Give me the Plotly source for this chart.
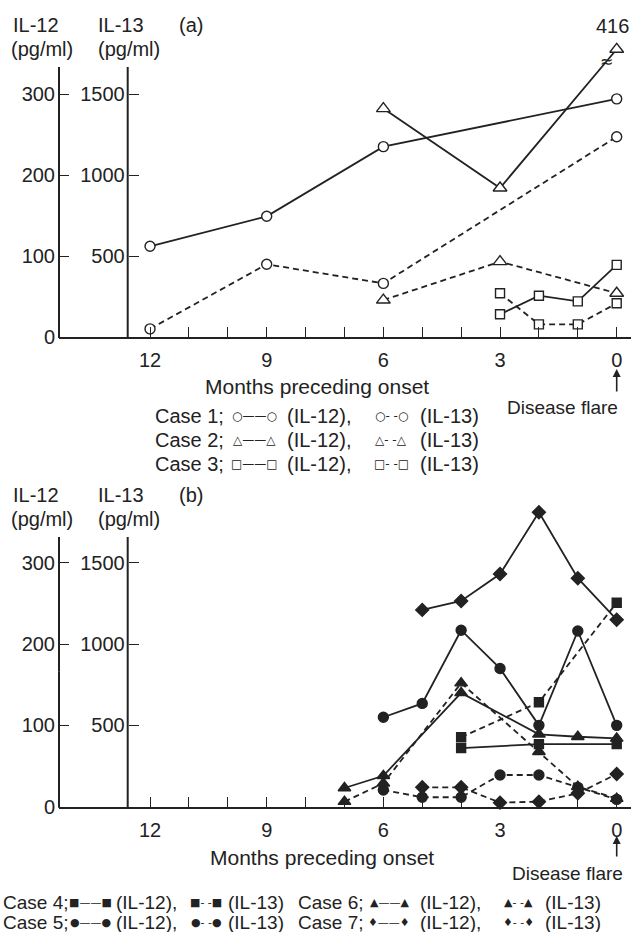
import plotly.graph_objects as go

# ---------------- data ----------------
# Panel (a)
c1_months = [12, 9, 6, 0]
c1_il12 = [112, 149, 235, 294]
c1_il13 = [50, 449, 331, 1236]
c2_months = [6, 3, 0]
c2_il12 = [282, 184, 416]
c2_il13 = [228, 465, 270]
c3_months = [3, 2, 1, 0]
c3_il12 = [28, 51, 44, 89]
c3_il13 = [270, 78, 78, 208]

# Panel (b)
c4_months = [4, 2, 0]
c4_il12 = [72, 77, 77]
c4_il13 = [427, 642, 1254]
c5_months = [6, 5, 4, 3, 2, 1, 0]
c5_il12 = [110, 127, 217, 170, 100, 216, 100]
c5_il13 = [103, 58, 58, 195, 195, 119, 45]
c6_months = [7, 6, 4, 2, 1, 0]
c6_il12 = [23, 38, 140, 89, 86, 84]
c6_il13 = [31, 144, 760, 338, 123, 50]
c7_months = [5, 4, 3, 2, 1, 0]
c7_il12 = [242, 253, 286, 362, 281, 230]
c7_il13 = [119, 119, 25, 31, 82, 201]

month_ticks = list(range(0, 13))
month_labels = [str(m) if m % 3 == 0 else "" for m in month_ticks]
il12_ticks = [0, 100, 200, 300]
il13_ticks = [500, 1000, 1500]

# ---------------- geometry ----------------
W, H = 631, 932
INK = "#222222"
FONT = "Liberation Sans, Arial, Helvetica, sans-serif"
SYM = "DejaVu Sans, sans-serif"

PX_M0 = 616.7
PX_PER_MONTH = 38.89
AX12_PX = 59.0
AX13_PX = 127.7
x_range = [(PX_M0 - AX12_PX) / PX_PER_MONTH, (PX_M0 - W) / PX_PER_MONTH]

def px(x):
    return x / W

def py(y):
    return 1 - y / H

panels = {
    "a": dict(zero=337.0, k=0.81, axis_top=67.0, dom_top=38.0, dy=0.0),
    "b": dict(zero=806.7, k=0.8133, axis_top=537.0, dom_top=495.0, dy=469.7),
}
for p in panels.values():
    p["domain"] = [py(p["zero"]), py(p["dom_top"])]
    p["ymax"] = (p["zero"] - p["dom_top"]) / p["k"]

# axis break in panel (a): IL-12 values above BREAK_AT are squeezed
BREAK_AT = 340
SQUEEZE = 0.2
def broken(v):
    return v if v <= BREAK_AT else BREAK_AT + (v - BREAK_AT) * SQUEEZE

fig = go.Figure()

def add(months, vals, xa, ya, symbol, filled, dashed, size):
    fig.add_trace(go.Scatter(
        x=months, y=vals, xaxis=xa, yaxis=ya, mode="lines+markers",
        line=dict(color=INK, width=1.8, dash="6px,4px" if dashed else "solid"),
        marker=dict(symbol=symbol, size=size,
                    color=INK if filled else "white",
                    line=dict(color=INK, width=1.4)),
        cliponaxis=False, showlegend=False, hoverinfo="skip"))

# panel a
add(c1_months, c1_il12, "x", "y", "circle", False, False, 10)
add(c1_months, c1_il13, "x", "y2", "circle", False, True, 10)
add(c2_months, [broken(v) for v in c2_il12], "x", "y", "triangle-up", False, False, 12)
add(c2_months, c2_il13, "x", "y2", "triangle-up", False, True, 12)
add(c3_months, c3_il12, "x", "y", "square", False, False, 9)
add(c3_months, c3_il13, "x", "y2", "square", False, True, 9)
# panel b
add(c4_months, c4_il13, "x2", "y4", "square", True, True, 9)
add(c4_months, c4_il12, "x2", "y3", "square", True, False, 9)
add(c5_months, c5_il12, "x2", "y3", "circle", True, False, 10)
add(c5_months, c5_il13, "x2", "y4", "circle", True, True, 10)
add(c6_months, c6_il12, "x2", "y3", "triangle-up", True, False, 11)
add(c6_months, c6_il13, "x2", "y4", "triangle-up", True, True, 11)
add(c7_months, c7_il12, "x2", "y3", "diamond", True, False, 10)
add(c7_months, c7_il13, "x2", "y4", "diamond", True, True, 10)

tickfont = dict(family=FONT, size=20, color=INK)

def xaxis_cfg(anchor):
    return dict(domain=[px(AX12_PX), 1], range=x_range, anchor=anchor,
                showline=True, linewidth=2, linecolor=INK,
                ticks="inside", ticklen=10, tickwidth=1.4, tickcolor=INK,
                tickvals=month_ticks, ticktext=month_labels,
                tickfont=tickfont, ticklabelstandoff=4,
                showgrid=False, zeroline=False, automargin=False, fixedrange=True)

def y12_cfg(p, anchor):
    return dict(domain=p["domain"], range=[0, p["ymax"]], anchor=anchor,
                showline=False, ticks="inside", ticklen=10, tickwidth=1.4,
                tickcolor=INK, tickvals=il12_ticks, tickfont=tickfont,
                ticklabelstandoff=3, showgrid=False, zeroline=False,
                automargin=False, fixedrange=True)

def y13_cfg(p, over):
    return dict(range=[0, p["ymax"] * 5], overlaying=over, anchor="free",
                position=px(AX13_PX), side="left",
                showline=False, ticks="inside", ticklen=10, tickwidth=1.4,
                tickcolor=INK, tickvals=il13_ticks, tickfont=tickfont,
                ticklabelstandoff=3, showgrid=False, zeroline=False,
                automargin=False, fixedrange=True)

A, B = panels["a"], panels["b"]
fig.update_layout(
    width=W, height=H, margin=dict(l=0, r=0, t=0, b=0),
    paper_bgcolor="white", plot_bgcolor="rgba(0,0,0,0)",
    xaxis=xaxis_cfg("y"), yaxis=y12_cfg(A, "x"), yaxis2=y13_cfg(A, "y"),
    xaxis2=xaxis_cfg("y3"), yaxis3=y12_cfg(B, "x2"), yaxis4=y13_cfg(B, "y3"),
)

# vertical axis lines drawn as paper shapes (they stop below the plot top)
shapes = []
for p in (A, B):
    mid = (p["zero"] + p["axis_top"]) / 2
    shapes.append(dict(type="line", xref="paper", yref="paper", layer="above",
                       x0=px(AX13_PX), x1=px(AX13_PX), y0=py(p["zero"] + 1),
                       y1=py(p["axis_top"]), line=dict(color=INK, width=2)))
    shapes.append(dict(type="line", xref="paper", yref="paper", layer="above",
                       x0=px(AX12_PX), x1=px(AX12_PX), y0=py(p["zero"] + 1),
                       y1=py(mid), line=dict(color=INK, width=2)))
    shapes.append(dict(type="line", xref="paper", yref="paper", layer="above",
                       x0=px(AX12_PX), x1=px(AX12_PX), y0=py(mid),
                       y1=py(p["axis_top"]), line=dict(color=INK, width=2)))
fig.update_layout(shapes=shapes)

ann = []
def text(t, x, y, size=20, xanchor="left", family=FONT):
    ann.append(dict(text=t, x=px(x), y=py(y), xref="paper", yref="paper",
                    xanchor=xanchor, yanchor="middle", showarrow=False,
                    font=dict(family=family, size=size, color=INK)))

for key, lab in (("a", "(a)"), ("b", "(b)")):
    dy = panels[key]["dy"]
    text("IL-12", 11, 25 + dy)
    text("(pg/ml)", 9, 49 + dy)
    text("IL-13", 96, 25 + dy)
    text("(pg/ml)", 96, 49 + dy)
    text(lab, 177, 25 + dy)

text("Months preceding onset", 317, 386, xanchor="center", size=21)
text("Months preceding onset", 322, 857, xanchor="center", size=21)
text("Disease flare", 620, 407, xanchor="right", size=19)
text("Disease flare", 625, 873, xanchor="right", size=19)

# arrows at month 0
for xr, ytip, ylen in (("x", 369, 24), ("x2", 836, 22)):
    ann.append(dict(text="", x=0, y=py(ytip), xref=xr, yref="paper",
                    showarrow=True, ax=0, ay=ylen, arrowhead=2, arrowsize=1,
                    arrowwidth=1.6, arrowcolor=INK, standoff=0))

# label for broken-axis value
ann.append(dict(text=str(c2_il12[-1]), x=c2_months[-1], y=broken(c2_il12[-1]),
                xref="x", yref="y", yshift=23, xshift=-4, showarrow=False,
                font=dict(family=FONT, size=20, color=INK)))
# break marks on the line
frac = (BREAK_AT - c2_il12[1]) / (broken(c2_il12[2]) - c2_il12[1])
ann.append(dict(text="≈", x=c2_months[1] + (c2_months[2] - c2_months[1]) * frac,
                y=BREAK_AT, xref="x", yref="y", showarrow=False,
                font=dict(family=SYM, size=16, color=INK)))

# legend panel a
leg_a = [("Case 1;", "○"), ("Case 2;", "△"), ("Case 3;", "□")]
for i, (case, s) in enumerate(leg_a):
    y = 416 + 24 * i
    text(case, 153, y)
    text(f"{s}——{s}", 254, y, size=12, xanchor="center", family=SYM)
    text("(IL-12),", 285, y)
    text(f"{s}- -{s}", 391, y, size=12, xanchor="center", family=SYM)
    text("(IL-13)", 418, y)

# legend panel b
leg_b = [[("Case 4;", "■"), ("Case 6;", "▲")], [("Case 5;", "●"), ("Case 7;", "♦")]]
col_x = [  # case, solid sample centre, (IL-12), dashed sample centre, (IL-13)
    (1, 90, 114, 206, 226),
    (296, 389, 418, 518, 543),
]
for i, row in enumerate(leg_b):
    y = 902 + 20 * i
    for j, (case, s) in enumerate(row):
        xc, xs1, xl1, xs2, xl2 = col_x[j]
        text(case, xc, y, size=19)
        text(f"{s}——{s}", xs1, y, size=11, xanchor="center", family=SYM)
        text("(IL-12),", xl1, y, size=19)
        text(f"{s}- -{s}", xs2, y, size=11, xanchor="center", family=SYM)
        text("(IL-13)", xl2, y, size=19)

fig.update_layout(annotations=ann)
fig.write_html("out.html", config={"displayModeBar": False},
               post_script="document.body.style.margin='0';document.body.style.overflow='hidden';")
